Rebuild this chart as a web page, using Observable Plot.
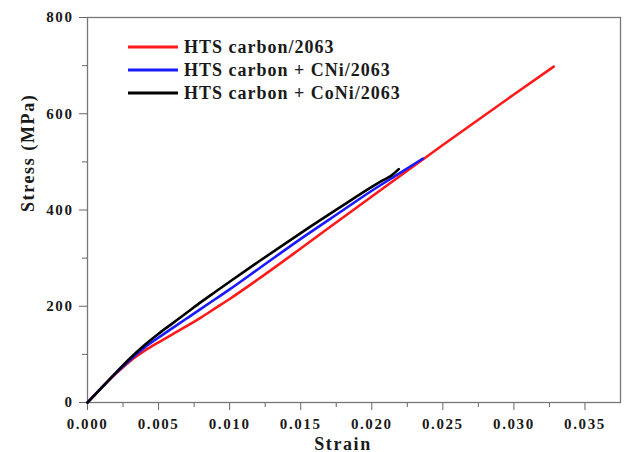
<!DOCTYPE html>
<html>
<head>
<meta charset="utf-8">
<script src="https://cdn.jsdelivr.net/npm/d3@7"></script>
<script src="https://cdn.jsdelivr.net/npm/@observablehq/plot@0.6"></script>
<style>
  html, body { margin: 0; padding: 0; background: #fff; }
  #chart { width: 625px; height: 452px; }
</style>
</head>
<body>
<div id="chart"></div>
<script>
// ---- Data ----
const seriesNames = ["HTS carbon/2063", "HTS carbon + CNi/2063", "HTS carbon + CoNi/2063"];
const seriesColors = ["#ff1a1a", "#1a1aff", "#000000"];

const strainRed  = [0, 0.001, 0.002, 0.003, 0.004, 0.005, 0.006, 0.007, 0.008, 0.009, 0.010, 0.012, 0.015, 0.018, 0.020, 0.025, 0.030, 0.0328];
const stressRed  = [0, 31, 60, 86, 107, 125, 142, 159, 177, 196, 215, 256, 320, 385, 428, 535, 640, 698];

const strainBlue = [0, 0.001, 0.002, 0.003, 0.004, 0.005, 0.006, 0.007, 0.008, 0.009, 0.010, 0.012, 0.015, 0.018, 0.020, 0.022, 0.0236];
const stressBlue = [0, 31, 61, 89, 114, 135, 155, 175, 195, 215, 235, 277, 340, 400, 440, 477, 507];

const strainBlack = [0, 0.001, 0.002, 0.003, 0.004, 0.005, 0.006, 0.007, 0.008, 0.009, 0.010, 0.012, 0.015, 0.018, 0.020, 0.0208, 0.0214, 0.0219];
const stressBlack = [0, 31, 62, 92, 119, 143, 165, 187, 209, 230, 251, 292, 352, 410, 448, 462, 472, 485];

const xMajorTicks = [0, 0.005, 0.010, 0.015, 0.020, 0.025, 0.030, 0.035];
const xMinorTicks = [0.0025, 0.0075, 0.0125, 0.0175, 0.0225, 0.0275, 0.0325];
const yMajorTicks = [0, 200, 400, 600, 800];
const yMinorTicks = [100, 300, 500, 700];

const xTitle = "Strain";
const yTitle = "Stress (MPa)";

// ---- Build tables ----
const toRows = (xs, ys, name) => xs.map((x, i) => ({strain: x, stress: ys[i], series: name}));
const rows = [
  ...toRows(strainRed, stressRed, seriesNames[0]),
  ...toRows(strainBlue, stressBlue, seriesNames[1]),
  ...toRows(strainBlack, stressBlack, seriesNames[2])
];

const fontFam = "'Liberation Serif', 'Times New Roman', serif";

const chart = Plot.plot({
  width: 625,
  height: 452,
  marginLeft: 87,
  marginRight: 5,
  marginTop: 17,
  marginBottom: 50,
  style: {fontFamily: fontFam, fontWeight: "bold", background: "#fff", color: "#1a1a1a"},
  x: {domain: [0, 0.0375], label: null},
  y: {domain: [0, 800], label: null},
  color: {domain: seriesNames, range: seriesColors},
  marks: [
    Plot.axisX({ticks: xMinorTicks, tickSize: 5, text: null, stroke: "#666"}),
    Plot.axisX({ticks: xMajorTicks, tickSize: 8, tickPadding: 8, fontSize: 15, stroke: "#666",
                tickFormat: d3.format(".3f")}),
    Plot.axisY({ticks: yMinorTicks, tickSize: 5, text: null, stroke: "#666"}),
    Plot.axisY({ticks: yMajorTicks, tickSize: 8, tickPadding: 6, fontSize: 15, stroke: "#666",
                tickFormat: d3.format("d")}),
    Plot.frame({stroke: "#777", strokeWidth: 1.3}),
    Plot.line(rows, {x: "strain", y: "stress", z: "series", stroke: "series", curve: "monotone-x",
                     strokeWidth: 2.6, strokeLinejoin: "round", strokeLinecap: "round"}),
    Plot.text([xTitle], {frameAnchor: "bottom", dx: -11, dy: 47, lineAnchor: "bottom",
                         fontSize: 18, text: d => d}),
    Plot.text([yTitle], {frameAnchor: "left", dx: -59, dy: 2, rotate: -90,
                         fontSize: 18, text: d => d})
  ]
});

document.getElementById("chart").appendChild(chart);

// letter spacing for the (horizontally wide) reference typography
const svg = d3.select(chart);
svg.selectAll('g[aria-label="x-axis tick label"] text, g[aria-label="y-axis tick label"] text')
   .style("letter-spacing", "1.6px");
svg.selectAll('g[aria-label="text"] text').style("letter-spacing", "1.6px");

// ---- Legend (inside the frame, top-left) ----
const legend = svg.append("g").attr("class", "legend")
  .attr("font-family", fontFam).attr("font-weight", "bold").attr("font-size", 18)
  .attr("text-anchor", "start");
seriesNames.forEach((name, i) => {
  const y = 47 + i * 23;
  legend.append("line")
    .attr("x1", 128).attr("x2", 178).attr("y1", y).attr("y2", y)
    .attr("stroke", seriesColors[i]).attr("stroke-width", 2.8);
  legend.append("text")
    .attr("x", 184).attr("y", y + 6)
    .attr("text-anchor", "start")
    .attr("fill", "#1a1a1a")
    .style("letter-spacing", "1px")
    .text(name);
});
</script>
</body>
</html>
